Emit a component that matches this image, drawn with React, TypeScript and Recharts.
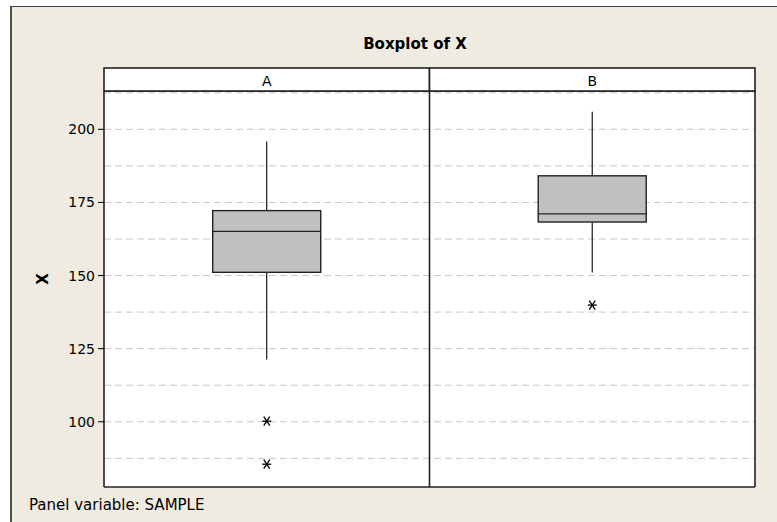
import React from 'react';
import { ComposedChart, Bar, Line, XAxis, YAxis, CartesianGrid } from 'recharts';

const categories = ['A', 'B'];
const whiskerLow = [121.3, 151.0];
const q1 = [151.1, 168.3];
const median = [165.1, 171.1];
const q3 = [172.2, 184.1];
const whiskerHigh = [195.8, 206.0];
const outlier1: (number | null)[] = [100.2, 139.9];
const outlier2: (number | null)[] = [85.5, null];
const yTicks = [100, 125, 150, 175, 200];
const gridValues = [87.5, 100, 112.5, 125, 137.5, 150, 162.5, 175, 187.5, 200, 212.5];
const yDomain = [77.7, 213.1];

const data = categories.map((c, i) => ({
  cat: c,
  whisker: [whiskerLow[i], whiskerHigh[i]],
  lo: whiskerLow[i],
  hi: whiskerHigh[i],
  q1: q1[i],
  med: median[i],
  q3: q3[i],
  out1: outlier1[i],
  out2: outlier2[i],
}));

const FONT = '"DejaVu Sans", Verdana, sans-serif';

const BoxShape = (props: any) => {
  const { x, y, width, height, payload } = props;
  if (x == null || y == null || !payload) return null;
  const top = Math.min(y, y + height);
  const bottom = Math.max(y, y + height);
  const lo = payload.lo;
  const hi = payload.hi;
  const px = (v: number) => bottom - ((v - lo) / (hi - lo)) * (bottom - top);
  const cx = x + width / 2;
  const yq3 = px(payload.q3);
  const yq1 = px(payload.q1);
  const ym = px(payload.med);
  return (
    <g>
      <line x1={cx} x2={cx} y1={px(hi)} y2={yq3} stroke="#000" strokeWidth={1.1} />
      <line x1={cx} x2={cx} y1={yq1} y2={px(lo)} stroke="#000" strokeWidth={1.1} />
      <rect x={x} y={yq3} width={width} height={yq1 - yq3} fill="#C0C0C0" stroke="#222" strokeWidth={1.4} />
      <line x1={x} x2={x + width} y1={ym} y2={ym} stroke="#222" strokeWidth={1.4} />
    </g>
  );
};

const Asterisk = (props: any) => {
  const { cx, cy, value } = props;
  if (cx == null || cy == null || value == null || isNaN(cy)) return null;
  const r = 4.5;
  return (
    <g stroke="#000" strokeWidth={1.3}>
      <line x1={cx - r} x2={cx + r} y1={cy} y2={cy} />
      <line x1={cx - 3} x2={cx + 3} y1={cy - r} y2={cy + r} />
      <line x1={cx - 3} x2={cx + 3} y1={cy + r} y2={cy - r} />
    </g>
  );
};

const HeaderTick = (props: any) => {
  const { x, y, payload, width, height, visibleTicksCount } = props;
  const count = visibleTicksCount || categories.length;
  const band = (width || 651) / count;
  const h = height || 23;
  return (
    <g>
      <rect x={x - band / 2} y={y - h} width={band} height={h} fill="#fff" stroke="#222" strokeWidth={1.6} />
      <text x={x} y={y - h / 2 + 1} textAnchor="middle" dominantBaseline="central" fontSize={14} fill="#000" fontFamily={FONT}>
        {payload.value}
      </text>
    </g>
  );
};

const dividerGen = (p: any) => {
  const { xAxis, offset } = p || {};
  let v: any;
  try {
    const s = xAxis && xAxis.scale;
    v = typeof s === 'function' ? s(categories[1]) : s?.map?.(categories[1]);
  } catch (e) {
    v = undefined;
  }
  if (typeof v !== 'number' || isNaN(v)) v = offset.left + offset.width / 2;
  return [v];
};

const YLabel = (props: any) => {
  const vb = props.viewBox || {};
  const cx = vb.x - 1;
  const cy = vb.y + vb.height / 2 - 10;
  return (
    <text x={cx} y={cy} transform={`rotate(-90, ${cx}, ${cy})`} textAnchor="middle" dominantBaseline="central" fontSize={15} fontWeight="bold" fill="#000" fontFamily={FONT}>
      X
    </text>
  );
};

export default function App() {
  return (
    <div style={{ position: 'absolute', left: 0, top: 0, width: 777, height: 522, background: '#fff', overflow: 'hidden', fontFamily: FONT }}>
      <div style={{ position: 'absolute', left: 10, top: 6, right: 0, bottom: 0, background: '#EFEBE1', borderLeft: '2px solid #505050', borderTop: '1px solid #404040' }} />
      <div style={{ position: 'absolute', left: 0, top: 0 }}>
        <ComposedChart width={777} height={522} data={data} margin={{ top: 68, right: 21, bottom: 34, left: 44 }} barCategoryGap="33.4%">
          <CartesianGrid xAxisId="main" yAxisId="left" vertical={false} horizontalValues={gridValues} stroke="#C8C8C8" strokeDasharray="7 4" fill="#fff" syncWithTicks={false} />
          <CartesianGrid xAxisId="main" yAxisId="left" horizontal={false} verticalCoordinatesGenerator={dividerGen} stroke="#222" strokeWidth={1.6} />
          <XAxis xAxisId="main" dataKey="cat" type="category" height={1} tick={false} tickLine={false} axisLine={{ stroke: '#222', strokeWidth: 1.6 }} />
          <XAxis xAxisId="hdr" dataKey="cat" type="category" orientation="top" height={23} tickLine={false} tickSize={0} tickMargin={0} axisLine={{ stroke: '#222', strokeWidth: 1.6 }} tick={<HeaderTick />} interval={0} />
          <YAxis yAxisId="left" type="number" domain={yDomain} ticks={yTicks} width={60} allowDataOverflow tickSize={6} tickMargin={3} axisLine={{ stroke: '#222', strokeWidth: 1.6 }} tickLine={{ stroke: '#000' }} tick={{ fill: '#000', fontSize: 14, fontFamily: FONT }} label={<YLabel />} />
          <YAxis yAxisId="right" orientation="right" type="number" domain={yDomain} allowDataOverflow width={1} tick={false} tickLine={false} axisLine={{ stroke: '#222', strokeWidth: 1.6 }} />
          <Bar xAxisId="main" yAxisId="left" dataKey="whisker" shape={<BoxShape />} isAnimationActive={false} />
          <Line xAxisId="main" yAxisId="left" dataKey="out1" stroke="none" dot={<Asterisk />} activeDot={false} isAnimationActive={false} />
          <Line xAxisId="main" yAxisId="left" dataKey="out2" stroke="none" dot={<Asterisk />} activeDot={false} isAnimationActive={false} />
        </ComposedChart>
      </div>
      <div style={{ position: 'absolute', left: 0, width: 830, top: 34, textAlign: 'center', fontWeight: 'bold', fontSize: 15, lineHeight: '20px', color: '#000' }}>
        Boxplot of X
      </div>
      <div style={{ position: 'absolute', left: 29, top: 496, fontSize: 15, lineHeight: '18px', color: '#000' }}>
        Panel variable: SAMPLE
      </div>
    </div>
  );
}
